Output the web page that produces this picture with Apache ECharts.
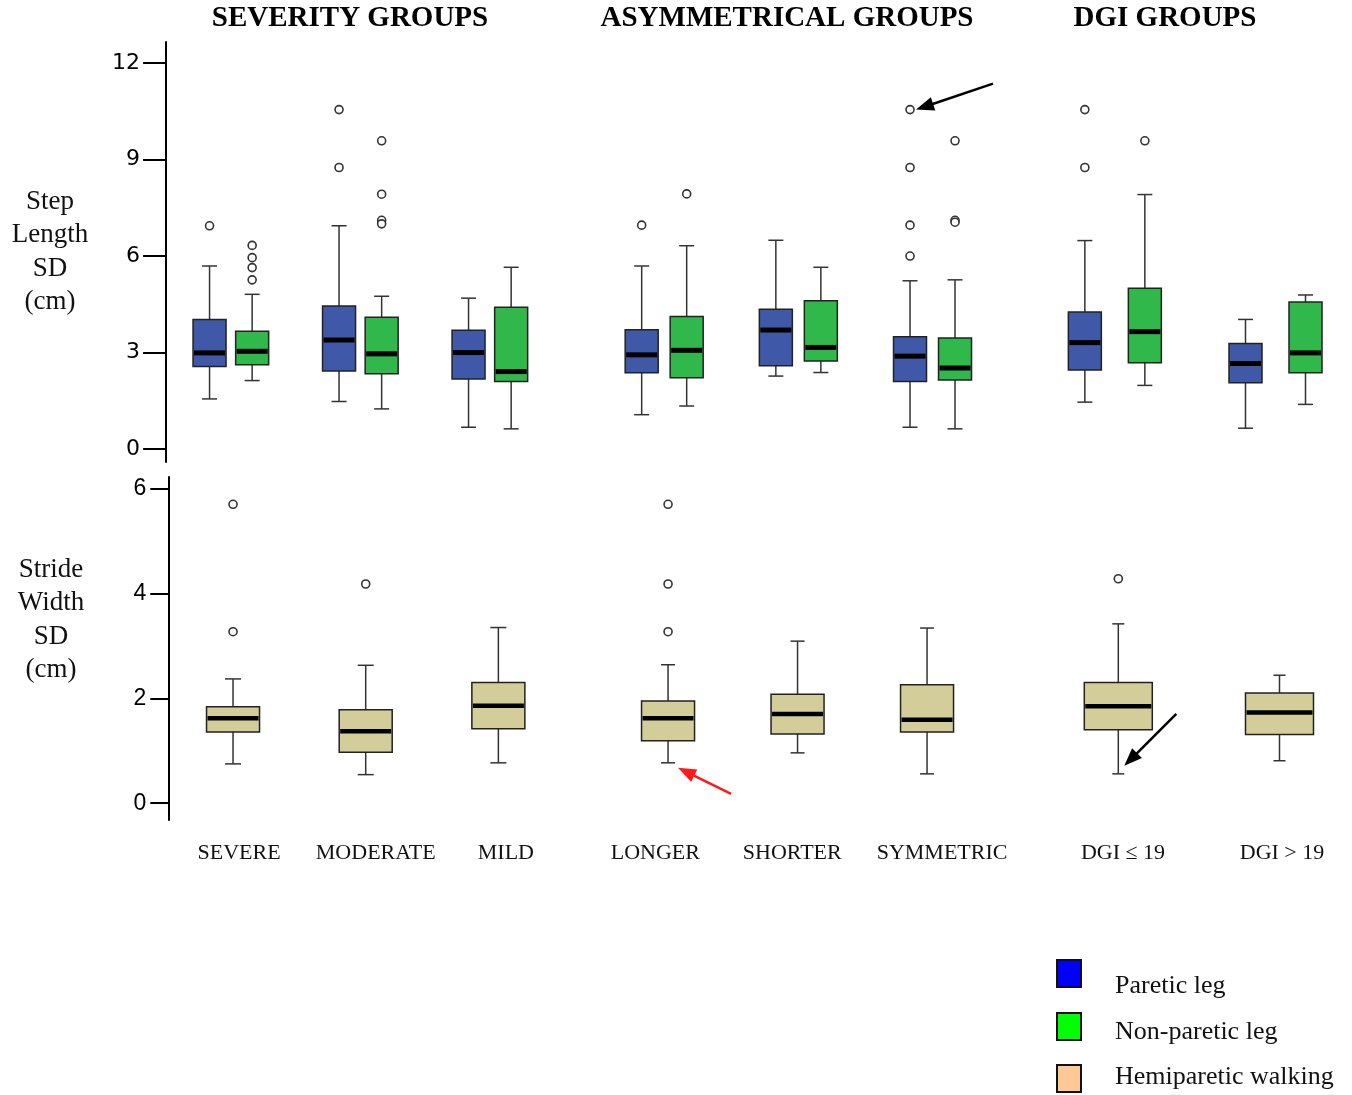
<!DOCTYPE html>
<html><head><meta charset="utf-8">
<script src="https://cdn.jsdelivr.net/npm/echarts@6/dist/echarts.min.js"></script>
<style>html,body{margin:0;padding:0;background:#fff}#c{width:1352px;height:1095px}</style>
</head><body><div id="c"></div>
<script>
// ---------------- DATA ----------------
const severityCats = ['SEVERE', 'MODERATE', 'MILD'];
const asymCats = ['LONGER', 'SHORTER', 'SYMMETRIC'];
const dgiCats = ['DGI ≤ 19', 'DGI > 19'];
const familyTitles = ['SEVERITY GROUPS', 'ASYMMETRICAL GROUPS', 'DGI GROUPS'];
const stepTicks = [0, 3, 6, 9, 12];
const strideTicks = [0, 2, 4, 6];
const legendNames = ['Paretic leg', 'Non-paretic leg', 'Hemiparetic walking'];

// [lower whisker, Q1, median, Q3, upper whisker]; order: SEVERE, MODERATE, MILD, LONGER, SHORTER, SYMMETRIC, DGI<=19, DGI>19
const stepParetic = [
  [1.56, 2.57, 2.99, 4.03, 5.69],
  [1.48, 2.43, 3.39, 4.45, 6.94],
  [0.68, 2.18, 3.00, 3.69, 4.69],
  [1.07, 2.37, 2.93, 3.71, 5.69],
  [2.27, 2.59, 3.70, 4.35, 6.49],
  [0.68, 2.10, 2.89, 3.49, 5.23],
  [1.46, 2.46, 3.31, 4.26, 6.48],
  [0.65, 2.06, 2.66, 3.28, 4.03]
];
const stepNonParetic = [
  [2.13, 2.62, 3.04, 3.66, 4.81],
  [1.25, 2.34, 2.96, 4.10, 4.75],
  [0.63, 2.10, 2.41, 4.41, 5.65],
  [1.34, 2.22, 3.07, 4.12, 6.32],
  [2.38, 2.74, 3.16, 4.61, 5.65],
  [0.63, 2.15, 2.52, 3.45, 5.26],
  [1.98, 2.68, 3.65, 5.00, 7.91],
  [1.39, 2.37, 2.99, 4.57, 4.79]
];
const stepPareticOutliers = [[6.94], [10.55, 8.75], [], [6.96], [], [10.55, 8.75, 6.96, 6.0], [10.55, 8.75], []];
const stepNonPareticOutliers = [[6.33, 5.95, 5.64, 5.26], [9.58, 7.92, 7.11, 7.0], [], [7.93], [], [9.58, 7.11, 7.05], [9.58], []];

const strideWidth = [
  [0.75, 1.36, 1.62, 1.84, 2.37],
  [0.545, 0.97, 1.37, 1.78, 2.63],
  [0.77, 1.42, 1.86, 2.30, 3.35],
  [0.77, 1.19, 1.62, 1.95, 2.64],
  [0.96, 1.32, 1.70, 2.08, 3.09],
  [0.56, 1.36, 1.59, 2.26, 3.34],
  [0.56, 1.40, 1.85, 2.30, 3.42],
  [0.81, 1.31, 1.73, 2.10, 2.44]
];
const strideOutliers = [[5.70, 3.27], [4.18], [], [5.70, 4.18, 3.27], [], [], [4.28], []];

// ---------------- LAYOUT / STYLE ----------------
const families = [severityCats, asymCats, dgiCats];
const starts = [0, 3, 6];
// the DGI family uses boundaryGap:false (band centres at the grid edges)
const boundary = [true, true, false];
const topL = { top: 42, height: 420, min: -0.4, max: 12.65, left: [166.1, 597.1, 1114.85], width: [388.5, 402.5, 160.65], legOffset: [21.3, 22.5, 30], boxW: 33, capW: 15 };
const botL = { top: 477, height: 343, min: -0.32, max: 6.22, left: [166.7, 603.3, 1118.3], width: [398, 388.5, 161.2], boxW: [53, 53, 68], capW: [16, 14, 12], labelShift: [[6, 10, 7.5], [-12.7, -5.3, 15], [4.7, 2.5]] };
const COL = { blue: '#3f58a8', green: '#30b84a', tan: '#d3ce99' };
const SERIF = '"Liberation Serif", "Times New Roman", serif';

function makeBox(offset, boxW, capW, fill, medW) {
  return function (params, api) {
    const i = api.value(0);
    const pLow = api.coord([i, api.value(1)]);
    const pQ1 = api.coord([i, api.value(2)]);
    const pMed = api.coord([i, api.value(3)]);
    const pQ3 = api.coord([i, api.value(4)]);
    const pHigh = api.coord([i, api.value(5)]);
    const cx = pLow[0] + offset;
    const ws = { stroke: '#333', lineWidth: 1.5 };
    return {
      type: 'group', children: [
        { type: 'line', shape: { x1: cx, y1: pHigh[1], x2: cx, y2: pQ3[1] }, style: ws },
        { type: 'line', shape: { x1: cx, y1: pQ1[1], x2: cx, y2: pLow[1] }, style: ws },
        { type: 'line', shape: { x1: cx - capW / 2, y1: pHigh[1], x2: cx + capW / 2, y2: pHigh[1] }, style: ws },
        { type: 'line', shape: { x1: cx - capW / 2, y1: pLow[1], x2: cx + capW / 2, y2: pLow[1] }, style: ws },
        { type: 'rect', shape: { x: cx - boxW / 2, y: pQ3[1], width: boxW, height: pQ1[1] - pQ3[1] }, style: { fill: fill, stroke: '#222', lineWidth: 1.5 } },
        { type: 'line', shape: { x1: cx - boxW / 2 + 1, y1: pMed[1], x2: cx + boxW / 2 - 1, y2: pMed[1] }, style: { stroke: '#000', lineWidth: medW } }
      ]
    };
  };
}
function boxData(cats, start, arr) { return cats.map((c, i) => [i].concat(arr[start + i])); }
function outData(cats, start, arr) { const d = []; cats.forEach((c, i) => arr[start + i].forEach(v => d.push([i, v]))); return d; }

const grid = [], xAxis = [], yAxis = [], series = [];
families.forEach((cats, f) => {
  grid.push({ left: topL.left[f], width: topL.width[f], top: topL.top, height: topL.height });
});
families.forEach((cats, f) => {
  grid.push({ left: botL.left[f], width: botL.width[f], top: botL.top, height: botL.height });
});
families.forEach((cats, f) => {
  xAxis.push({ gridIndex: f, type: 'category', data: cats, show: false, boundaryGap: boundary[f] });
  yAxis.push({
    gridIndex: f, type: 'value', min: topL.min, max: topL.max, show: f === 0,
    axisLine: { show: true, lineStyle: { color: '#000', width: 2 } },
    axisTick: { show: true, length: 23, lineStyle: { color: '#000', width: 2 }, customValues: stepTicks },
    axisLabel: { customValues: stepTicks, fontFamily: 'DejaVu Sans', fontSize: 22, color: '#000', margin: 26 },
    splitLine: { show: false }
  });
});
families.forEach((cats, f) => {
  const rich = {};
  cats.forEach((c, i) => {
    const s = botL.labelShift[f][i];
    rich['s' + i] = { fontFamily: SERIF, fontSize: 22, color: '#111', padding: s >= 0 ? [0, 0, 0, 2 * s] : [0, -2 * s, 0, 0] };
  });
  xAxis.push({
    gridIndex: 3 + f, type: 'category', data: cats, boundaryGap: boundary[f],
    axisLine: { show: false }, axisTick: { show: false },
    axisLabel: { margin: 33, verticalAlign: 'middle', fontFamily: SERIF, fontSize: 22, color: '#111', interval: 0, showMinLabel: true, showMaxLabel: true, formatter: (v, idx) => '{s' + idx + '|' + v + '}', rich: rich }
  });
  yAxis.push({
    gridIndex: 3 + f, type: 'value', min: botL.min, max: botL.max, show: f === 0, offset: -1.6,
    axisLine: { show: true, lineStyle: { color: '#000', width: 2 } },
    axisTick: { show: true, length: 18, lineStyle: { color: '#000', width: 2 }, customValues: strideTicks },
    axisLabel: { customValues: strideTicks, fontFamily: '"Liberation Sans", Arial, sans-serif', fontSize: 23, color: '#000', margin: 22 },
    splitLine: { show: false }
  });
});

const outStyle = { color: '#fff', borderColor: '#333', borderWidth: 1.6, opacity: 1 };
families.forEach((cats, f) => {
  const st = starts[f], off = topL.legOffset[f];
  series.push({ name: legendNames[0], type: 'custom', xAxisIndex: f, yAxisIndex: f, clip: false,
    renderItem: makeBox(-off, topL.boxW, topL.capW, COL.blue, 5), encode: { x: 0, y: [1, 2, 3, 4, 5] },
    data: boxData(cats, st, stepParetic) });
  series.push({ name: legendNames[1], type: 'custom', xAxisIndex: f, yAxisIndex: f, clip: false,
    renderItem: makeBox(off, topL.boxW, topL.capW, COL.green, 5), encode: { x: 0, y: [1, 2, 3, 4, 5] },
    data: boxData(cats, st, stepNonParetic) });
  series.push({ type: 'scatter', xAxisIndex: f, yAxisIndex: f, symbol: 'circle', symbolSize: 8, symbolOffset: [-off, 0], clip: false,
    itemStyle: outStyle, data: outData(cats, st, stepPareticOutliers), z: 5 });
  series.push({ type: 'scatter', xAxisIndex: f, yAxisIndex: f, symbol: 'circle', symbolSize: 8, symbolOffset: [off, 0], clip: false,
    itemStyle: outStyle, data: outData(cats, st, stepNonPareticOutliers), z: 5 });
});
families.forEach((cats, f) => {
  const st = starts[f];
  series.push({ name: legendNames[2], type: 'custom', xAxisIndex: 3 + f, yAxisIndex: 3 + f, clip: false,
    renderItem: makeBox(0, botL.boxW[f], botL.capW[f], COL.tan, 4.5), encode: { x: 0, y: [1, 2, 3, 4, 5] },
    data: boxData(cats, st, strideWidth) });
  series.push({ type: 'scatter', xAxisIndex: 3 + f, yAxisIndex: 3 + f, symbol: 'circle', symbolSize: 8, clip: false,
    itemStyle: outStyle, data: outData(cats, st, strideOutliers), z: 5 });
});

const chart = echarts.init(document.getElementById('c'), null, { renderer: 'canvas' });
chart.setOption({ animation: false, backgroundColor: '#fff', grid, xAxis, yAxis, series });

// ---------------- ANNOTATIONS ----------------
function arrow(tip, tail, color) {
  const dx = tip[0] - tail[0], dy = tip[1] - tail[1];
  const L = Math.hypot(dx, dy), ux = dx / L, uy = dy / L;
  const hl = 18, hw = 7;
  const bx = tip[0] - ux * hl, by = tip[1] - uy * hl;
  return [
    { type: 'line', shape: { x1: tail[0], y1: tail[1], x2: bx + ux * 2, y2: by + uy * 2 }, style: { stroke: color, lineWidth: 2.5 } },
    { type: 'polygon', shape: { points: [tip, [bx - uy * hw, by + ux * hw], [bx + uy * hw, by - ux * hw]] }, style: { fill: color } }
  ];
}
const graphic = [];
const titleX = [350, 787, 1165];
familyTitles.forEach((t, f) => graphic.push({ type: 'text', x: titleX[f], y: 19,
  style: { text: t, font: 'bold 29px ' + SERIF, fill: '#000', textAlign: 'center', textVerticalAlign: 'middle' } }));
graphic.push({ type: 'text', x: 50, y: 252, style: { text: 'Step\nLength\nSD\n(cm)', font: '27px ' + SERIF, lineHeight: 33.5, fill: '#111', textAlign: 'center', textVerticalAlign: 'middle' } });
graphic.push({ type: 'text', x: 51, y: 620, style: { text: 'Stride\nWidth\nSD\n(cm)', font: '27px ' + SERIF, lineHeight: 33.5, fill: '#111', textAlign: 'center', textVerticalAlign: 'middle' } });

const legCols = ['#0000ff', '#00ff00', '#ffc997'];
const legY = [960, 1013, 1065];
const legTextY = [986, 1032, 1077];
legendNames.forEach((n, i) => {
  graphic.push({ type: 'rect', shape: { x: 1057, y: legY[i], width: 24, height: 27 }, style: { fill: legCols[i], stroke: '#111', lineWidth: 2 } });
  graphic.push({ type: 'text', x: 1115, y: legTextY[i], style: { text: n, font: '26px ' + SERIF, fill: '#111', textVerticalAlign: 'middle' } });
});

// arrow to SYMMETRIC paretic outlier (step length)
const pSym = chart.convertToPixel({ gridIndex: 1 }, [2, 10.55]);
const tip1 = [pSym[0] - topL.legOffset[1] + 6, pSym[1]];
arrow(tip1, [tip1[0] + 77, tip1[1] - 26], '#000').forEach(g => graphic.push(g));
// red arrow to LONGER stride lower whisker
const pLon = chart.convertToPixel({ gridIndex: 4 }, [0, strideWidth[3][0]]);
const tip2 = [pLon[0] + 10, pLon[1] + 5];
arrow(tip2, [tip2[0] + 53, tip2[1] + 26], '#ff1a1a').forEach(g => graphic.push(g));
// arrow to DGI<=19 stride lower whisker
const pDgi = chart.convertToPixel({ gridIndex: 5 }, [0, strideWidth[6][0]]);
const tip3 = [pDgi[0] + 6, pDgi[1] - 8];
arrow(tip3, [tip3[0] + 52, tip3[1] - 52], '#000').forEach(g => graphic.push(g));

chart.setOption({ graphic: graphic });
</script></body></html>
